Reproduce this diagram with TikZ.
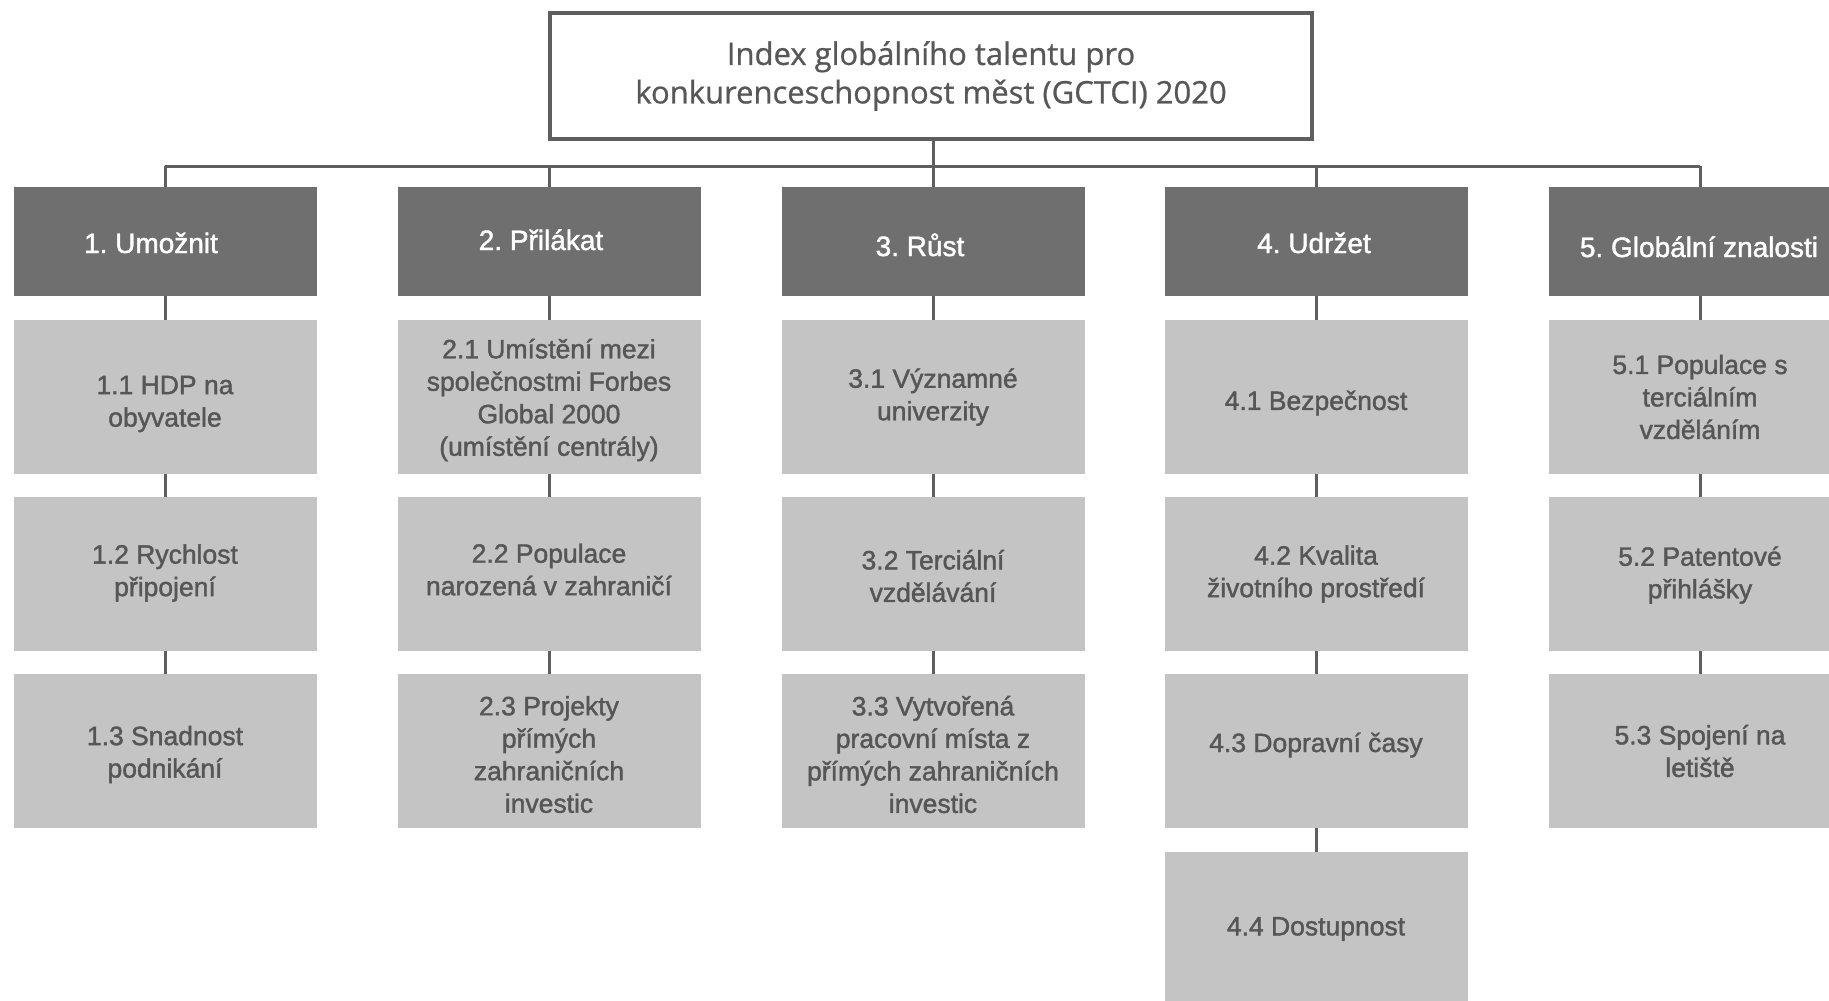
\documentclass[tikz,border=0pt]{standalone}
\usepackage{fontspec}
\setmainfont{Liberation Sans}[FakeBold=1.5]
\newfontfamily\boxfont{Liberation Sans}[FakeBold=1.5]
\newfontfamily\titlefont{Open Sans}[FakeBold=0.8]
\definecolor{hdrfill}{HTML}{6F6F6F}
\definecolor{subfill}{HTML}{C4C4C4}
\definecolor{subtext}{HTML}{565656}
\definecolor{linec}{HTML}{5E5E5E}
\definecolor{titletext}{HTML}{575757}
\frenchspacing
\newcommand\mkbox[6]{%
  \node[#1] (#2) at (#3,#4) {};
  \node[#1text] (#2t) at (#3,#4+#5) {#6};}
\newcommand\mkhdr[5]{%
  \node[hdrbox] (#1) at (#2,241.5) {};
  \node[hdrboxtext] (#1t) at (#2+#3,#4) {#5};}
\begin{document}
\begin{tikzpicture}[x=1pt,y=-1pt,
  titlebox/.style={draw=linec, line width=3.5pt, fill=white, minimum width=762pt, minimum height=126pt, inner sep=0pt, align=center, text=titletext, font=\titlefont\frenchspacing\fontsize{31}{38.5}\selectfont},
  hdrbox/.style={fill=hdrfill, minimum width=303pt, minimum height=109pt, inner sep=0pt},
  hdrboxtext/.style={inner sep=0pt, anchor=base, text=white, font=\boxfont\frenchspacing\fontsize{28}{32.5}\selectfont},
  subbox/.style={fill=subfill, minimum width=303pt, minimum height=154pt, inner sep=0pt},
  subboxtext/.style={inner sep=0pt, align=center, text=subtext, font=\boxfont\frenchspacing\fontsize{26.5}{32.5}\selectfont},
  conn/.style={draw=linec, line width=3pt}]
\useasboundingbox (0,0) rectangle (1829,1001);
% title
\node[titlebox] (T) at (931,76) {Index globálního talentu pro\\konkurenceschopnost měst (GCTCI) 2020};
\coordinate (bus) at (933,166);
% headers
\mkhdr{H1}{165}{-14}{253}{1. Umožnit}
\mkhdr{H2}{549}{-8}{250}{2. Přilákat}
\mkhdr{H3}{933}{-13}{256}{3. Růst}
\mkhdr{H4}{1316}{-2}{253}{4. Udržet}
\mkhdr{H5}{1700}{-1}{257}{5. Globální znalosti}
% column 1
\mkbox{subbox}{A1}{165}{397}{7}{1.1 HDP na\\obyvatele}
\mkbox{subbox}{A2}{165}{574}{-1}{1.2 Rychlost\\připojení}
\mkbox{subbox}{A3}{165}{751}{3.5}{1.3 Snadnost\\podnikání}
% column 2
\mkbox{subbox}{B1}{549}{397}{3}{2.1 Umístění mezi\\společnostmi Forbes\\Global 2000\\(umístění centrály)}
\mkbox{subbox}{B2}{549}{574}{-4.5}{2.2 Populace\\narozená v zahraničí}
\mkbox{subbox}{B3}{549}{751}{3.5}{2.3 Projekty\\přímých\\zahraničních\\investic}
% column 3
\mkbox{subbox}{C1}{933}{397}{0}{3.1 Významné\\univerzity}
\mkbox{subbox}{C2}{933}{574}{2}{3.2 Terciální\\vzdělávání}
\mkbox{subbox}{C3}{933}{751}{3.5}{3.3 Vytvořená\\pracovní místa z\\přímých zahraničních\\investic}
% column 4
\mkbox{subbox}{D1}{1316}{397}{6}{4.1 Bezpečnost}
\mkbox{subbox}{D2}{1316}{574}{0}{4.2 Kvalita\\životního prostředí}
\mkbox{subbox}{D3}{1316}{751}{-6}{4.3 Dopravní časy}
\mkbox{subbox}{D4}{1316}{929}{0}{4.4 Dostupnost}
% column 5
\mkbox{subbox}{E1}{1700}{397}{0}{5.1 Populace s\\terciálním\\vzděláním}
\mkbox{subbox}{E2}{1700}{574}{1}{5.2 Patentové\\přihlášky}
\mkbox{subbox}{E3}{1700}{751}{0}{5.3 Spojení na\\letiště}
% connectors
\draw[conn] (T.south -| bus) -- (bus);
\draw[conn] (H1.north |- bus) -- (H5.north |- bus);
\foreach \h in {H1,H2,H3,H4,H5} {\draw[conn] (\h.north |- bus) -- (\h.north);}
\draw[conn] (H1) -- (A1); \draw[conn] (A1) -- (A2); \draw[conn] (A2) -- (A3);
\draw[conn] (H2) -- (B1); \draw[conn] (B1) -- (B2); \draw[conn] (B2) -- (B3);
\draw[conn] (H3) -- (C1); \draw[conn] (C1) -- (C2); \draw[conn] (C2) -- (C3);
\draw[conn] (H4) -- (D1); \draw[conn] (D1) -- (D2); \draw[conn] (D2) -- (D3); \draw[conn] (D3) -- (D4);
\draw[conn] (H5) -- (E1); \draw[conn] (E1) -- (E2); \draw[conn] (E2) -- (E3);
\end{tikzpicture}
\end{document}
